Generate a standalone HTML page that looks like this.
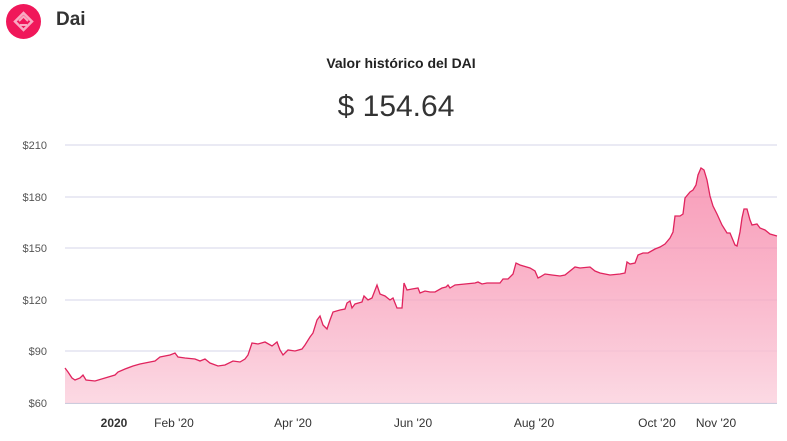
<!DOCTYPE html>
<html><head><meta charset="utf-8"><style>
body{margin:0;width:787px;height:441px;background:#fff;font-family:"Liberation Sans",Arial,sans-serif;overflow:hidden;position:relative}
.logo{position:absolute;left:6px;top:4px;width:35px;height:35px;border-radius:50%;background:#f0175a}
.name{position:absolute;left:56px;top:9px;font-size:19px;font-weight:bold;color:#333}
.title{position:absolute;left:0;width:787px;text-align:center;top:55px;font-size:14px;font-weight:bold;color:#222;padding-left:15px;box-sizing:border-box}
.val{position:absolute;left:0;width:787px;text-align:center;top:90px;font-size:30px;color:#333;padding-left:5px;box-sizing:border-box}
svg{position:absolute;left:0;top:0}
</style></head><body>
<div class="logo"><svg width="35" height="35" style="position:absolute;left:0;top:0"><path d="M17.5 9 L26 17.5 L17.5 26 L9 17.5 Z" fill="none" stroke="#f9a9c2" stroke-width="2.5"/><path d="M13 17 L17.5 12.5 L22 17 M14 21 L21 21" stroke="#f9a9c2" stroke-width="2" fill="none"/></svg></div>
<div class="name">Dai</div>
<div class="title">Valor histórico del DAI</div>
<div class="val">$ 154.64</div>
<svg width="787" height="441">
<defs><linearGradient id="g" x1="0" y1="0" x2="0" y2="1"><stop offset="0" stop-color="#f56a95" stop-opacity="0.65"/><stop offset="1" stop-color="#fbd3df" stop-opacity="0.85"/></linearGradient></defs>
<g stroke="#d6d6ea" stroke-width="1">
<line x1="65" x2="777" y1="145" y2="145"/><line x1="65" x2="777" y1="197" y2="197"/><line x1="65" x2="777" y1="248" y2="248"/><line x1="65" x2="777" y1="300" y2="300"/><line x1="65" x2="777" y1="351" y2="351"/><line x1="65" x2="777" y1="403" y2="403"/>
</g>
<g font-size="11" fill="#555" text-anchor="end"><text x="47" y="149">$210</text><text x="47" y="201">$180</text><text x="47" y="252">$150</text><text x="47" y="304">$120</text><text x="47" y="355">$90</text><text x="47" y="407">$60</text></g>
<g font-size="12" fill="#333" text-anchor="middle"><text x="114" y="427" font-weight="bold">2020</text><text x="174" y="427">Feb '20</text><text x="293" y="427">Apr '20</text><text x="413" y="427">Jun '20</text><text x="534" y="427">Aug '20</text><text x="657" y="427">Oct '20</text><text x="716" y="427">Nov '20</text></g>
<path d="M65,368 L68,372 L72,378 L75,380 L80,378 L83,375 L86,380 L95,381 L105,378 L115,375 L118,372 L125,369 L133,366 L140,364 L150,362 L155,361 L160,357 L170,355 L175,353 L178,357 L185,358 L195,359 L200,361 L205,359 L210,363 L218,366 L225,365 L233,361 L240,362 L245,359 L248,355 L252,343 L258,344 L265,342 L272,346 L277,342 L280,350 L283,355 L288,350 L295,351 L302,349 L305,345 L310,337 L313,333 L317,320 L320,316 L323,325 L327,329 L330,320 L333,312 L340,310 L345,309 L347,303 L350,301 L352,308 L355,304 L362,302 L364,296 L368,300 L372,298 L377,285 L380,294 L385,296 L390,300 L393,298 L397,308 L402,308 L404,283 L407,290 L412,289 L418,288 L420,293 L425,291 L430,292 L435,292 L442,288 L446,287 L448,285 L450,288 L455,285 L465,284 L475,283 L478,282 L482,284 L487,283 L492,283 L500,283 L503,279 L508,279 L513,274 L516,263 L520,265 L530,268 L535,271 L538,278 L540,277 L545,274 L552,275 L560,276 L565,275 L575,267 L580,268 L590,267 L595,271 L600,273 L610,275 L620,274 L625,273 L627,262 L630,264 L635,263 L638,255 L643,253 L648,253 L655,249 L660,247 L665,244 L670,238 L673,232 L675,216 L680,216 L683,214 L685,198 L690,192 L693,190 L696,185 L698,175 L701,168 L704,170 L707,180 L710,196 L713,206 L717,214 L722,225 L727,233 L730,233 L735,245 L737,246 L740,232 L742,218 L744,209 L747,209 L750,220 L752,225 L757,224 L760,228 L765,230 L770,234 L777,236 L777,403 L65,403 Z" fill="url(#g)"/>
<path d="M65,368 L68,372 L72,378 L75,380 L80,378 L83,375 L86,380 L95,381 L105,378 L115,375 L118,372 L125,369 L133,366 L140,364 L150,362 L155,361 L160,357 L170,355 L175,353 L178,357 L185,358 L195,359 L200,361 L205,359 L210,363 L218,366 L225,365 L233,361 L240,362 L245,359 L248,355 L252,343 L258,344 L265,342 L272,346 L277,342 L280,350 L283,355 L288,350 L295,351 L302,349 L305,345 L310,337 L313,333 L317,320 L320,316 L323,325 L327,329 L330,320 L333,312 L340,310 L345,309 L347,303 L350,301 L352,308 L355,304 L362,302 L364,296 L368,300 L372,298 L377,285 L380,294 L385,296 L390,300 L393,298 L397,308 L402,308 L404,283 L407,290 L412,289 L418,288 L420,293 L425,291 L430,292 L435,292 L442,288 L446,287 L448,285 L450,288 L455,285 L465,284 L475,283 L478,282 L482,284 L487,283 L492,283 L500,283 L503,279 L508,279 L513,274 L516,263 L520,265 L530,268 L535,271 L538,278 L540,277 L545,274 L552,275 L560,276 L565,275 L575,267 L580,268 L590,267 L595,271 L600,273 L610,275 L620,274 L625,273 L627,262 L630,264 L635,263 L638,255 L643,253 L648,253 L655,249 L660,247 L665,244 L670,238 L673,232 L675,216 L680,216 L683,214 L685,198 L690,192 L693,190 L696,185 L698,175 L701,168 L704,170 L707,180 L710,196 L713,206 L717,214 L722,225 L727,233 L730,233 L735,245 L737,246 L740,232 L742,218 L744,209 L747,209 L750,220 L752,225 L757,224 L760,228 L765,230 L770,234 L777,236" fill="none" stroke="#e0245e" stroke-width="1.3"/>
<line x1="65" x2="777" y1="403.5" y2="403.5" stroke="#ccd" stroke-width="1"/>
</svg>
</body></html>
